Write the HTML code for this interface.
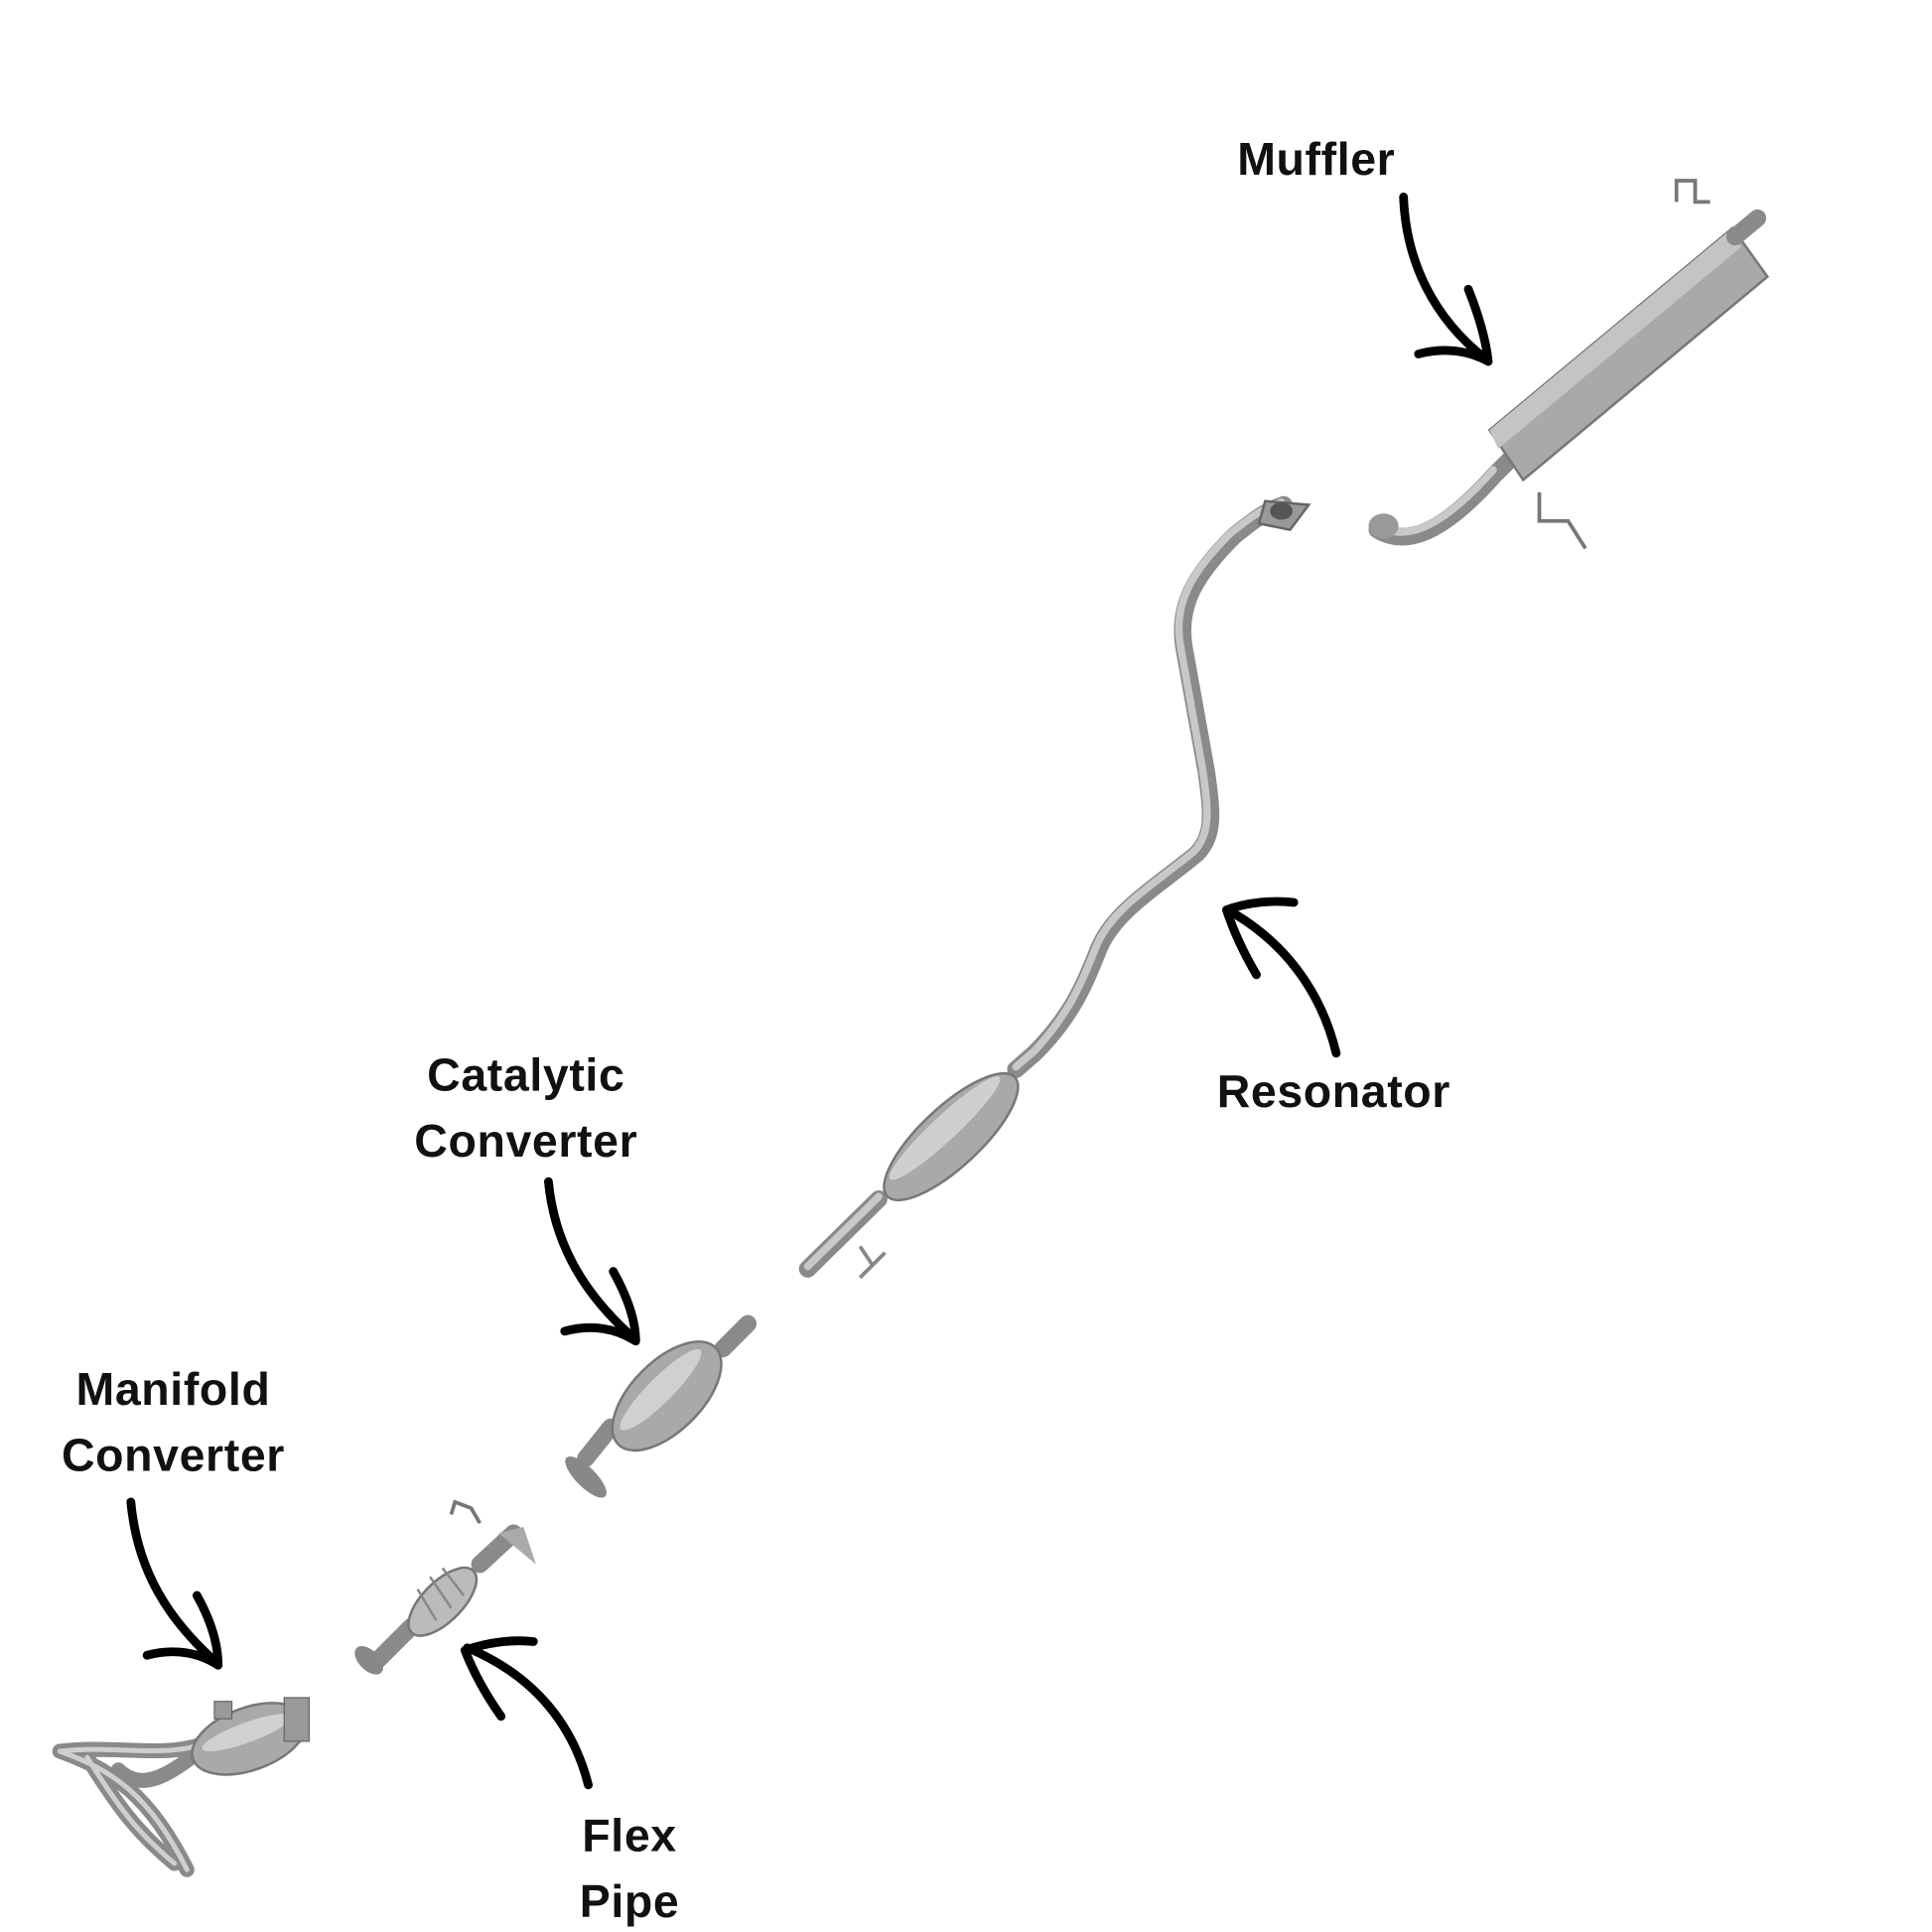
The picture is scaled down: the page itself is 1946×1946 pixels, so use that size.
<!DOCTYPE html>
<html><head><meta charset="utf-8"><style>
html,body{margin:0;padding:0;background:#fff}
svg{display:block}
text{font-family:"Liberation Sans",sans-serif;font-weight:bold;font-size:37px;fill:#111;text-anchor:middle;letter-spacing:0.5px}
.ar{fill:none;stroke:#000;stroke-width:7;stroke-linecap:round;stroke-linejoin:round}
.pipe{fill:none;stroke:#8a8a8a;stroke-width:14;stroke-linecap:round;stroke-linejoin:round}
.pipei{fill:none;stroke:#c8c8c8;stroke-width:6;stroke-linecap:round;stroke-linejoin:round}
.body{fill:#a9a9a9;stroke:#777;stroke-width:2}
</style></head><body>
<svg width="1946" height="1946" viewBox="0 0 1550 1550" xmlns="http://www.w3.org/2000/svg">
<rect width="1550" height="1550" fill="#fff"/>
<text x="1056" y="140">Muffler</text>
<text x="422" y="875">Catalytic</text>
<text x="422" y="928">Converter</text>
<text x="1070" y="888">Resonator</text>
<text x="139" y="1127">Manifold</text>
<text x="139" y="1180">Converter</text>
<text x="505" y="1485">Flex</text>
<text x="505" y="1538">Pipe</text>
<path class="ar" d="M1126 158 C1128 210 1150 255 1192 288"/>
<path class="ar" d="M1138 284 C1160 278 1180 282 1194 290 C1192 272 1186 252 1178 232"/>
<path class="ar" d="M1072 845 C1060 795 1030 755 985 730"/>
<path class="ar" d="M1038 724 C1020 722 1000 724 984 730 C990 748 998 765 1008 782"/>
<path class="ar" d="M440 948 C445 1000 470 1040 510 1075"/>
<path class="ar" d="M453 1068 C475 1062 495 1066 510 1076 C510 1058 502 1038 492 1020"/>
<path class="ar" d="M105 1205 C110 1260 135 1300 175 1335"/>
<path class="ar" d="M118 1328 C140 1322 160 1326 175 1336 C175 1318 168 1298 158 1280"/>
<path class="ar" d="M472 1432 C460 1385 430 1345 375 1322"/>
<path class="ar" d="M428 1317 C410 1315 390 1318 373 1324 C380 1342 390 1360 402 1377"/>
<g>
<path class="pipe" d="M1105 425 C1130 440 1160 425 1200 380 L1210 370"/>
<path class="pipei" d="M1105 422 C1130 436 1160 420 1198 377"/>
<polygon class="body" points="1195,345 1390,183 1418,222 1222,385" />
<polygon points="1195,345 1390,183 1397,198 1202,360" fill="#c4c4c4"/>
<path class="pipe" d="M1392 190 L1410 175" stroke-width="16"/>
<path d="M1345 162 L1345 145 L1360 145 L1360 162 L1372 162" fill="none" stroke="#777" stroke-width="3"/>
<path d="M1235 395 L1235 418 L1258 418 L1272 440" fill="none" stroke="#777" stroke-width="3"/>
<ellipse cx="1110" cy="422" rx="12" ry="10" fill="#999"/>
</g>
<path class="pipe" d="M648 1018 L705 962 M815 858 L830 845 C860 815 870 790 882 760 C895 730 930 710 960 685 C975 670 972 650 968 620 L950 520 C944 485 960 460 990 430 C1005 418 1015 410 1030 405"/>
<path class="pipei" d="M648 1016 L705 960 M815 856 L830 843 C858 813 868 788 880 758 C893 728 928 708 958 683 C972 668 969 648 965 618 L947 518 C941 483 957 458 987 428 C1002 416 1012 408 1028 403" stroke="#d8d8d8" stroke-width="4"/>
<ellipse cx="763" cy="912" rx="70" ry="24" transform="rotate(-43 763 912)" class="body"/>
<ellipse cx="758" cy="905" rx="60" ry="10" transform="rotate(-43 758 905)" fill="#cfcfcf"/>
<path d="M1015 402 L1050 405 L1035 425 L1010 420 Z" fill="#999" stroke="#666" stroke-width="2"/>
<ellipse cx="1028" cy="410" rx="9" ry="7" fill="#555"/>
<path d="M690 1000 L700 1015 L710 1005 M700 1015 L690 1025" fill="none" stroke="#888" stroke-width="3"/>
<path class="pipe" d="M600 1062 L580 1082 M490 1145 L470 1170" stroke-width="16"/>
<ellipse cx="535" cy="1120" rx="55" ry="28" transform="rotate(-45 535 1120)" class="body"/>
<ellipse cx="530" cy="1115" rx="45" ry="10" transform="rotate(-45 530 1115)" fill="#d0d0d0"/>
<ellipse cx="470" cy="1185" rx="22" ry="8" transform="rotate(45 470 1185)" fill="#888"/>
<path class="pipe" d="M300 1335 L330 1305 M385 1255 L412 1230" stroke-width="14"/>
<ellipse cx="355" cy="1285" rx="35" ry="16" transform="rotate(-45 355 1285)" fill="#bbb" stroke="#777" stroke-width="2"/>
<path d="M335 1275 L350 1300 M345 1265 L362 1290 M355 1258 L372 1280" stroke="#888" stroke-width="2"/>
<path d="M400 1230 L430 1255 L420 1225 Z" fill="#aaa"/>
<path d="M362 1215 L365 1205 L378 1210 L385 1222" fill="none" stroke="#777" stroke-width="3"/>
<ellipse cx="296" cy="1332" rx="14" ry="8" transform="rotate(45 296 1332)" fill="#888"/>
<g fill="none" stroke-linecap="round" stroke-linejoin="round">
<path d="M48 1405 C90 1420 120 1440 150 1500 M48 1405 C90 1400 130 1410 160 1400 M70 1410 C95 1450 110 1470 140 1495 M95 1420 C115 1440 140 1420 160 1405" stroke="#8a8a8a" stroke-width="12"/>
<path d="M48 1405 C90 1420 120 1440 150 1500 M48 1405 C90 1400 130 1410 160 1400 M70 1410 C95 1450 110 1470 140 1495" stroke="#cfcfcf" stroke-width="4"/>
</g>
<ellipse cx="200" cy="1395" rx="48" ry="25" transform="rotate(-20 200 1395)" class="body"/>
<ellipse cx="198" cy="1390" rx="38" ry="8" transform="rotate(-20 198 1390)" fill="#d0d0d0"/>
<rect x="228" y="1362" width="20" height="35" fill="#999" stroke="#666"/>
<rect x="172" y="1365" width="14" height="14" fill="#999" stroke="#666"/>
</svg>
</body></html>
